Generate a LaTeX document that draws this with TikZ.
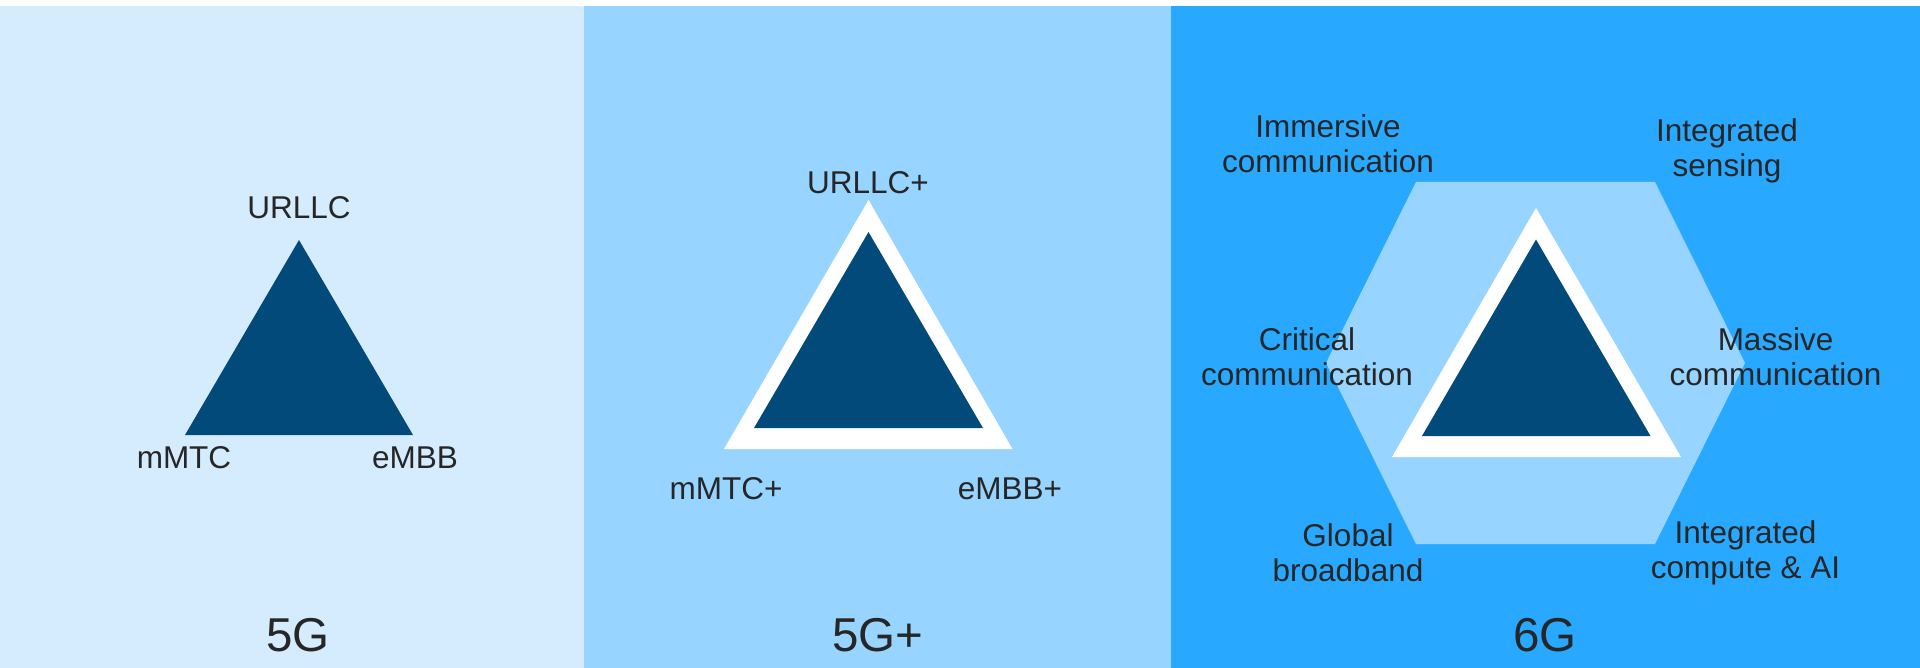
\documentclass[tikz,border=0pt]{standalone}
\usepackage{fontspec}
\setmainfont{Liberation Sans}
\definecolor{pa}{HTML}{D5ECFF}
\definecolor{pb}{HTML}{97D4FF}
\definecolor{pc}{HTML}{29A8FF}
\definecolor{tri}{HTML}{024A7A}
\definecolor{txt}{HTML}{262626}
\begin{document}
\begin{tikzpicture}[x=1pt,y=-1pt,
  lbl/.style={text=txt,font=\fontsize{31.5}{35}\selectfont,inner sep=0pt,align=center,anchor=base},
  ttl/.style={text=txt,font=\fontsize{47.5}{50}\selectfont,inner sep=0pt,anchor=base}]
\useasboundingbox (0,0) rectangle (1920,668);
\fill[white] (0,0) rectangle (1920,668);
% panels
\fill[pa] (0,6) rectangle (584,668);
\fill[pb] (584,6) rectangle (1171,668);
\fill[pc] (1171,6) rectangle (1920,668);
% 5G
\fill[tri] (299,240) -- (413,435) -- (185,435) -- cycle;
\node[lbl] (urllc) at (299,218.5) {URLLC};
\node[lbl] (mmtc) at (184,468.6) {mMTC};
\node[lbl] (embb) at (415,468.6) {eMBB};
\node[ttl] (g5) at (298,651) {5G};
% 5G+
\fill[white] (868.5,200) -- (1012.5,449) -- (724,449) -- cycle;
\fill[tri] (868.5,232) -- (983,428) -- (754,428) -- cycle;
\node[lbl] (urllcp) at (868,194) {URLLC+};
\node[lbl] (mmtcp) at (726,499) {mMTC+};
\node[lbl] (embbp) at (1010,499) {eMBB+};
\node[ttl] (g5p) at (878,651) {5G+};
% 6G
\fill[pb] (1416,182) -- (1655,182) -- (1745,363) -- (1655,544) -- (1416,544) -- (1326,363) -- cycle;
\fill[white] (1536,208) -- (1681,457) -- (1392,457) -- cycle;
\fill[tri] (1536,239.5) -- (1650.5,436) -- (1422,436) -- cycle;
\node[lbl] (imm) at (1328,172.5) {Immersive\\communication};
\node[lbl] (sens) at (1727,177) {Integrated\\sensing};
\node[lbl] (crit) at (1307,385.5) {Critical\\communication};
\node[lbl] (mass) at (1775.5,385.5) {Massive\\communication};
\node[lbl] (glob) at (1348,581.5) {Global\\broadband};
\node[lbl] (comp) at (1745.5,578.5) {Integrated\\compute \& AI};
\node[ttl] (g6) at (1545,651) {6G};
\end{tikzpicture}
\end{document}
